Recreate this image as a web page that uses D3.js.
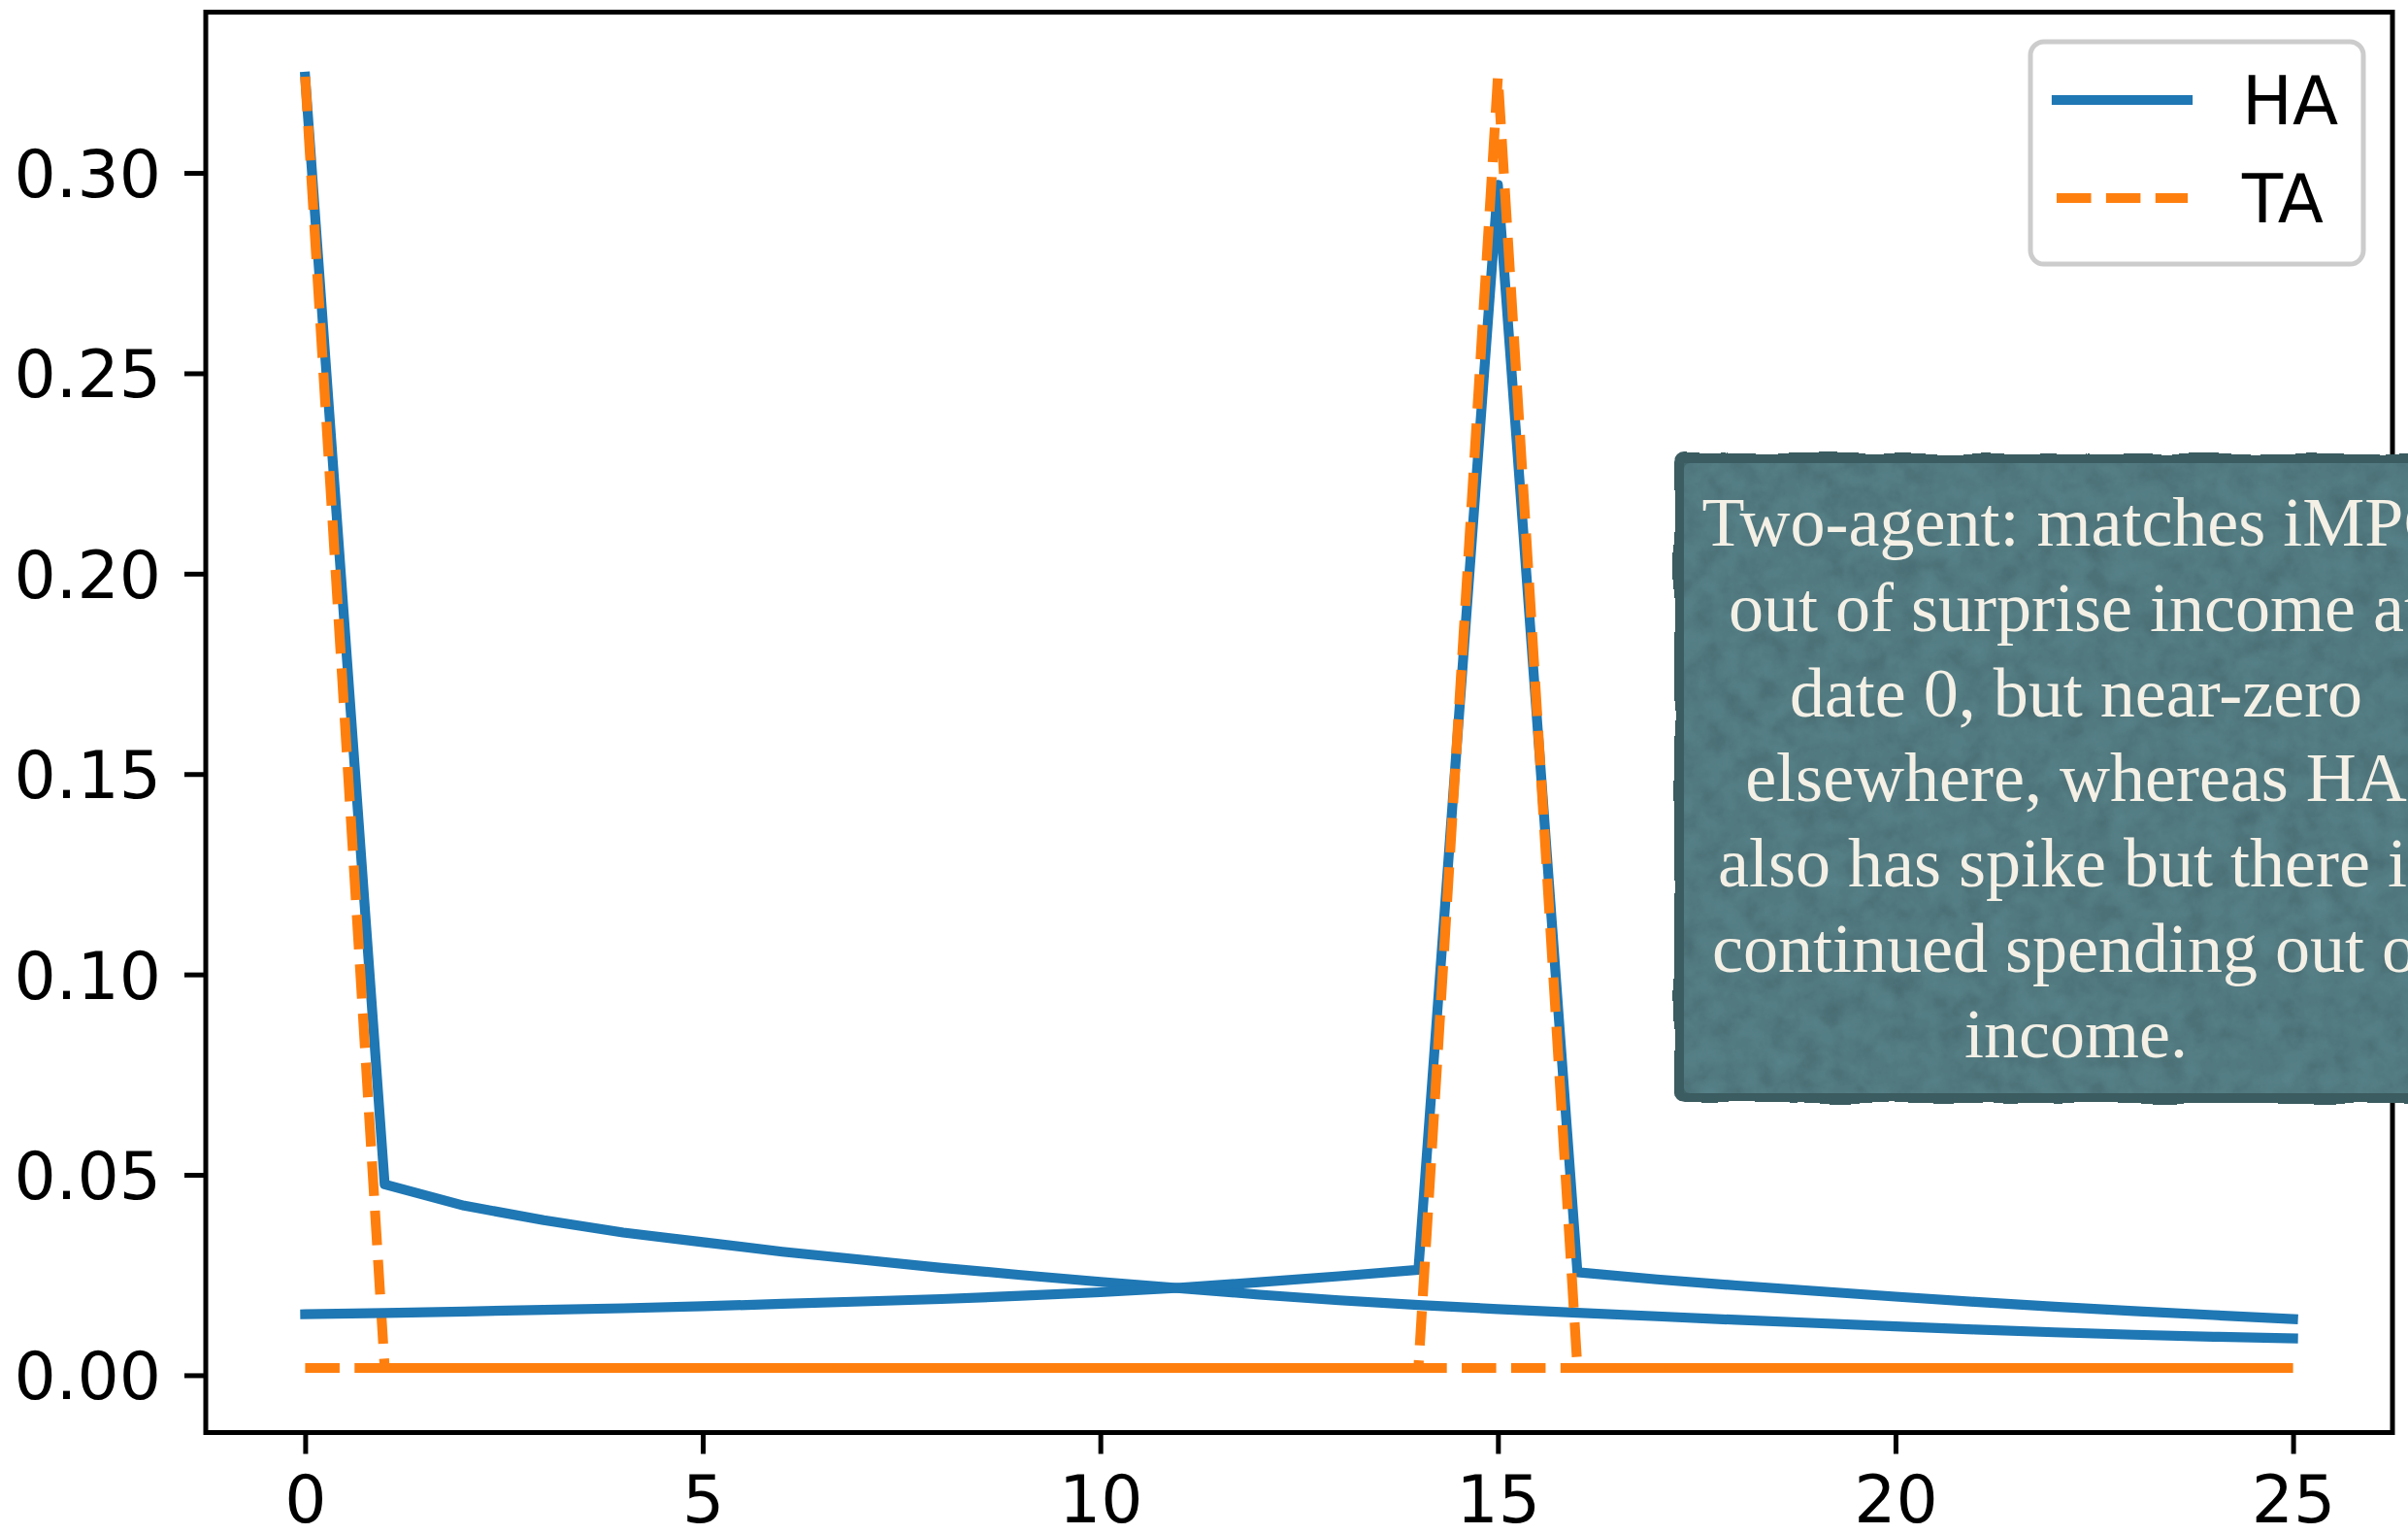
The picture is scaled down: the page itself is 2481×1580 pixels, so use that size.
<!DOCTYPE html>
<html>
<head>
<meta charset="utf-8">
<script src="https://cdn.jsdelivr.net/npm/d3@7"></script>
<style>
  html, body { margin: 0; padding: 0; background: #ffffff; }
  svg { display: block; }
</style>
</head>
<body>
<svg id="chart" width="2481" height="1580"></svg>
<script>
// Periods after the income shock
const periods = [0, 1, 2, 3, 4, 5, 6, 7, 8, 9, 10, 11, 12, 13, 14, 15, 16, 17, 18, 19, 20, 21, 22, 23, 24, 25];

// Heterogeneous-agent (HA) spending response: income received at date 0
const haDate0 = [0.324, 0.0476, 0.0423, 0.0387, 0.0356, 0.0332, 0.0308, 0.0288, 0.0268, 0.0250,
                 0.0233, 0.0217, 0.0201, 0.0187, 0.0175, 0.0165, 0.0156, 0.0147, 0.0138, 0.0130,
                 0.0122, 0.0114, 0.0107, 0.0101, 0.0096, 0.0092];

// HA spending response: income received at date 15
const haDate15 = [0.0152, 0.0155, 0.0159, 0.0163, 0.0167, 0.0172, 0.0178, 0.0184, 0.0190, 0.0198,
                  0.0207, 0.0218, 0.0232, 0.0247, 0.0263, 0.297, 0.0257, 0.0239, 0.0224, 0.0210,
                  0.0196, 0.0183, 0.0171, 0.0160, 0.0150, 0.0140];

// Two-agent (TA) spending response: income received at date 0
const taDate0 = [0.324, 0.0018, 0.0018, 0.0018, 0.0018, 0.0018, 0.0018, 0.0018, 0.0018, 0.0018,
                 0.0018, 0.0018, 0.0018, 0.0018, 0.0018, 0.0018, 0.0018, 0.0018, 0.0018, 0.0018,
                 0.0018, 0.0018, 0.0018, 0.0018, 0.0018, 0.0018];

// TA spending response: income received at date 15
const taDate15 = [0.0018, 0.0018, 0.0018, 0.0018, 0.0018, 0.0018, 0.0018, 0.0018, 0.0018, 0.0018,
                  0.0018, 0.0018, 0.0018, 0.0018, 0.0018, 0.324, 0.0018, 0.0018, 0.0018, 0.0018,
                  0.0018, 0.0018, 0.0018, 0.0018, 0.0018, 0.0018];

const xTicks = [0, 5, 10, 15, 20, 25];
const yTicks = [0.00, 0.05, 0.10, 0.15, 0.20, 0.25, 0.30];

const seriesNames = ["HA", "TA"];
const seriesColors = ["#1f77b4", "#ff7f0e"];

const noteLines = [
  "Two-agent: matches iMPC",
  "out of surprise income at",
  "date 0, but near-zero",
  "elsewhere, whereas HA",
  "also has spike but there is",
  "continued spending out of",
  "income."
];

// ---- layout ----
const plot = { left: 212, right: 2465, top: 12.5, bottom: 1475.5 };
const lw = 10.2;
const dashUnit = 9.6;                       // dash lengths follow the 3.7 / 1.6 "dashed" pattern
const dash = [3.7 * dashUnit, 1.6 * dashUnit].join(",");
const tickFont = "'DejaVu Sans', Verdana, sans-serif";

const svg = d3.select("#chart");

// Autoscaled limits with 5% margins
const allVals = haDate0.concat(haDate15, taDate0, taDate15);
const yMin = d3.min(allVals), yMax = d3.max(allVals);
const yPad = (yMax - yMin) * 0.05;
const xMin = d3.min(periods), xMax = d3.max(periods);
const xPad = (xMax - xMin) * 0.05;

const x = d3.scaleLinear().domain([xMin - xPad, xMax + xPad]).range([plot.left, plot.right]);
const y = d3.scaleLinear().domain([yMin - yPad, yMax + yPad]).range([plot.bottom, plot.top]);

const defs = svg.append("defs");
defs.append("clipPath").attr("id", "plotClip")
  .append("rect")
  .attr("x", plot.left).attr("y", plot.top)
  .attr("width", plot.right - plot.left).attr("height", plot.bottom - plot.top);

// Slightly wavy edge for the note card
const rough = defs.append("filter").attr("id", "rough")
  .attr("x", "-3%").attr("y", "-3%").attr("width", "106%").attr("height", "106%");
rough.append("feTurbulence").attr("type", "fractalNoise").attr("baseFrequency", "0.018")
  .attr("numOctaves", 2).attr("seed", 4).attr("result", "t");
rough.append("feDisplacementMap").attr("in", "SourceGraphic").attr("in2", "t")
  .attr("scale", 8).attr("xChannelSelector", "R").attr("yChannelSelector", "G");

// Paper grain inside the note card
const grain = defs.append("filter").attr("id", "grain")
  .attr("x", "0").attr("y", "0").attr("width", "100%").attr("height", "100%");
grain.append("feTurbulence").attr("type", "fractalNoise").attr("baseFrequency", "0.04")
  .attr("numOctaves", 4).attr("seed", 11).attr("result", "n");
grain.append("feColorMatrix").attr("in", "n").attr("type", "matrix")
  .attr("values", "0.33 0.33 0.33 0 0  0.33 0.33 0.33 0 0  0.33 0.33 0.33 0 0  0 0 0 0 1")
  .attr("result", "g");
grain.append("feComposite").attr("in", "g").attr("in2", "SourceGraphic").attr("operator", "in");

// ---- lines ----
const line = d3.line().x((d, i) => x(periods[i])).y(d => y(d));
const lines = svg.append("g").attr("clip-path", "url(#plotClip)");

function drawSeries(values, k) {
  const p = lines.append("path")
    .datum(values)
    .attr("d", line)
    .attr("fill", "none")
    .attr("stroke", seriesColors[k])
    .attr("stroke-width", lw)
    .attr("stroke-linejoin", "round");
  if (k === 0) {
    p.attr("stroke-linecap", "square");
  } else {
    p.attr("stroke-linecap", "butt").attr("stroke-dasharray", dash);
  }
}
drawSeries(haDate0, 0);
drawSeries(taDate0, 1);
drawSeries(haDate15, 0);
drawSeries(taDate15, 1);

// ---- axes ----
const yAxis = d3.axisLeft(y).tickValues(yTicks).tickFormat(d3.format(".2f"))
  .tickSize(22).tickPadding(24);
const gy = svg.append("g").attr("transform", `translate(${plot.left},0)`).call(yAxis);
gy.select(".domain").remove();
gy.selectAll(".tick line").attr("stroke", "#000").attr("stroke-width", 5);
gy.selectAll(".tick text").attr("font-family", tickFont).attr("font-size", 68)
  .attr("fill", "#000").attr("dy", "0.36em");

const xAxis = d3.axisBottom(x).tickValues(xTicks).tickFormat(d3.format("d"))
  .tickSize(22).tickPadding(22);
const gx = svg.append("g").attr("transform", `translate(0,${plot.bottom})`).call(xAxis);
gx.select(".domain").remove();
gx.selectAll(".tick line").attr("stroke", "#000").attr("stroke-width", 5);
gx.selectAll(".tick text").attr("font-family", tickFont).attr("font-size", 68)
  .attr("fill", "#000");

// Frame
svg.append("rect")
  .attr("x", plot.left).attr("y", plot.top)
  .attr("width", plot.right - plot.left).attr("height", plot.bottom - plot.top)
  .attr("fill", "none").attr("stroke", "#000").attr("stroke-width", 5)
  .attr("stroke-linecap", "square");

// ---- legend ----
const legend = svg.append("g").attr("transform", "translate(2092,43)");
legend.append("rect")
  .attr("x", 0).attr("y", 0).attr("width", 343).attr("height", 229)
  .attr("rx", 14).attr("ry", 14)
  .attr("fill", "#ffffff").attr("fill-opacity", 0.8)
  .attr("stroke", "#cccccc").attr("stroke-width", 5);
seriesNames.forEach((name, k) => {
  const cy = 60 + k * 101;
  const h = legend.append("line")
    .attr("x1", 27).attr("x2", 162).attr("y1", cy).attr("y2", cy)
    .attr("stroke", seriesColors[k]).attr("stroke-width", lw);
  if (k === 0) h.attr("stroke-linecap", "square");
  else h.attr("stroke-linecap", "butt").attr("stroke-dasharray", dash);
  legend.append("text")
    .attr("x", 218).attr("y", cy + 0.3645 * 69)
    .attr("font-family", tickFont).attr("font-size", 69).attr("fill", "#000")
    .text(name);
});

// ---- note card ----
const card = { x: 1725, y: 467, w: 840, h: 669 };
const note = svg.append("g");
note.append("rect")
  .attr("x", card.x).attr("y", card.y).attr("width", card.w).attr("height", card.h)
  .attr("rx", 10).attr("fill", "#3b5b61").attr("filter", "url(#rough)");
note.append("rect")
  .attr("x", card.x + 10).attr("y", card.y + 10).attr("width", card.w - 20).attr("height", card.h - 20)
  .attr("rx", 6).attr("fill", "#476a70");
note.append("rect")
  .attr("x", card.x + 10).attr("y", card.y + 10).attr("width", card.w - 20).attr("height", card.h - 20)
  .attr("fill", "#000").attr("filter", "url(#grain)")
  .style("mix-blend-mode", "overlay").attr("opacity", 0.3);

const cx = 2139;
const firstBaseline = 562, lineStep = 87.8;
note.selectAll("text.note")
  .data(noteLines)
  .join("text")
  .attr("class", "note")
  .attr("x", cx)
  .attr("y", (d, i) => firstBaseline + i * lineStep)
  .attr("text-anchor", "middle")
  .attr("font-family", "'Liberation Serif', 'DejaVu Serif', serif")
  .attr("font-size", 72)
  .attr("fill", "#f4f0e6")
  .text(d => d);
</script>
</body>
</html>
